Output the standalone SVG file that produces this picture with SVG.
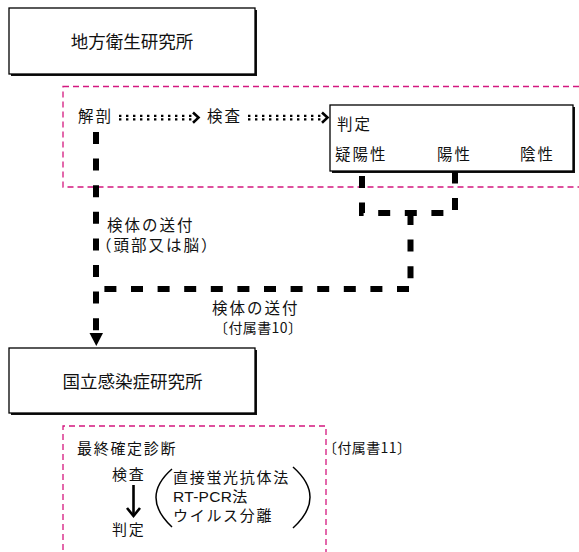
<svg xmlns="http://www.w3.org/2000/svg" width="579" height="552" viewBox="0 0 579 552">
<defs>
<style>
text{font-family:"Noto Sans CJK JP","Noto Sans",sans-serif;fill:#111}
.title{font-size:17.5px}
.t{font-size:15.5px;letter-spacing:2px}
.s{font-size:15px;letter-spacing:1.7px}
.ref{font-size:14px;letter-spacing:0.4px}
.lat{font-family:"Liberation Sans",Arial,sans-serif;font-size:15.5px;letter-spacing:0.3px}
.box{fill:#fff;stroke:#000;stroke-width:1.3}
.shadow{fill:#111}
.pink{fill:none;stroke:#d4177f;stroke-width:1.3;stroke-dasharray:6 4}
.thick{fill:none;stroke:#000;stroke-width:6;stroke-dasharray:12 14.6}
.dot{fill:none;stroke:#000;stroke-width:2.2;stroke-dasharray:2.4 4.6}
.chev{fill:none;stroke:#000;stroke-width:2.6}
</style>
</defs>

<rect class="pink" x="63" y="86.5" width="530" height="100.5"/>
<path class="pink" d="M63,560 V426 H326 V560"/>

<g id="chihou">
<rect class="shadow" x="11" y="10" width="246" height="66"/>
<rect class="box" x="9" y="8" width="246" height="66"/>
<text class="title" x="132" y="48" text-anchor="middle">地方衛生研究所</text>
</g>

<g id="kaibou"><text class="t" x="78" y="122">解剖</text></g>
<g id="kensa"><text class="t" x="207" y="122">検査</text></g>

<g id="hantei">
<rect class="shadow" x="332" y="107" width="243" height="66"/>
<rect class="box" x="330" y="105" width="243" height="66"/>
<text class="t" x="337" y="130">判定</text>
<text class="t" x="335" y="160">疑陽性</text>
<text class="t" x="437" y="160">陽性</text>
<text class="t" x="520" y="160">陰性</text>
</g>

<g id="kokuritsu">
<rect class="shadow" x="11" y="350" width="246" height="65"/>
<rect class="box" x="9" y="348" width="246" height="65"/>
<text class="title" x="132.5" y="388" text-anchor="middle">国立感染症研究所</text>
</g>

<g id="saishu">
<text class="s" x="77" y="454">最終確定診断</text>
<text class="ref" x="323" y="453">〔付属書11〕</text>
<text class="s" x="112" y="480">検査</text>
<text class="s" x="112" y="535">判定</text>
<path d="M133.5,485 V515" stroke="#000" stroke-width="2.6" fill="none"/>
<path d="M127,508 L133.5,516 L140,508" stroke="#000" stroke-width="2.6" fill="none"/>
<path d="M172,469 Q140,497 172,527" stroke="#000" stroke-width="1.5" fill="none"/>
<path d="M293,467 Q327,497 293,528" stroke="#000" stroke-width="1.5" fill="none"/>
<text class="s" x="173" y="483">直接蛍光抗体法</text>
<text class="s" x="173" y="502"><tspan class="lat">RT-PCR</tspan>法</text>
<text class="s" x="173" y="521">ウイルス分離</text>
</g>

<g id="connectors">
<path class="dot" d="M119,115.8 H192 M119,119.4 H192"/>
<path class="chev" d="M193,112.5 L198.5,117.6 L193,122.7"/>
<path class="dot" d="M248,115.8 H321 M248,119.4 H321"/>
<path class="chev" d="M322,112.5 L327.5,117.6 L322,122.7"/>
<line class="thick" x1="96" y1="132" x2="96" y2="333"/>
<path d="M89.5,333 H103 L96.3,346 Z" fill="#000"/>
<path class="thick" d="M362,176 V213 H455 V172"/>
<path class="thick" d="M410.5,213 V289"/>
<path class="thick" d="M409,289 H103"/>
</g>

<g id="labels">
<text class="t" x="107" y="231">検体の送付</text>
<text class="t" x="96" y="251">（頭部又は脳）</text>
<text class="t" x="212" y="314">検体の送付</text>
<text class="ref" x="214" y="333">〔付属書10〕</text>
</g>
</svg>
